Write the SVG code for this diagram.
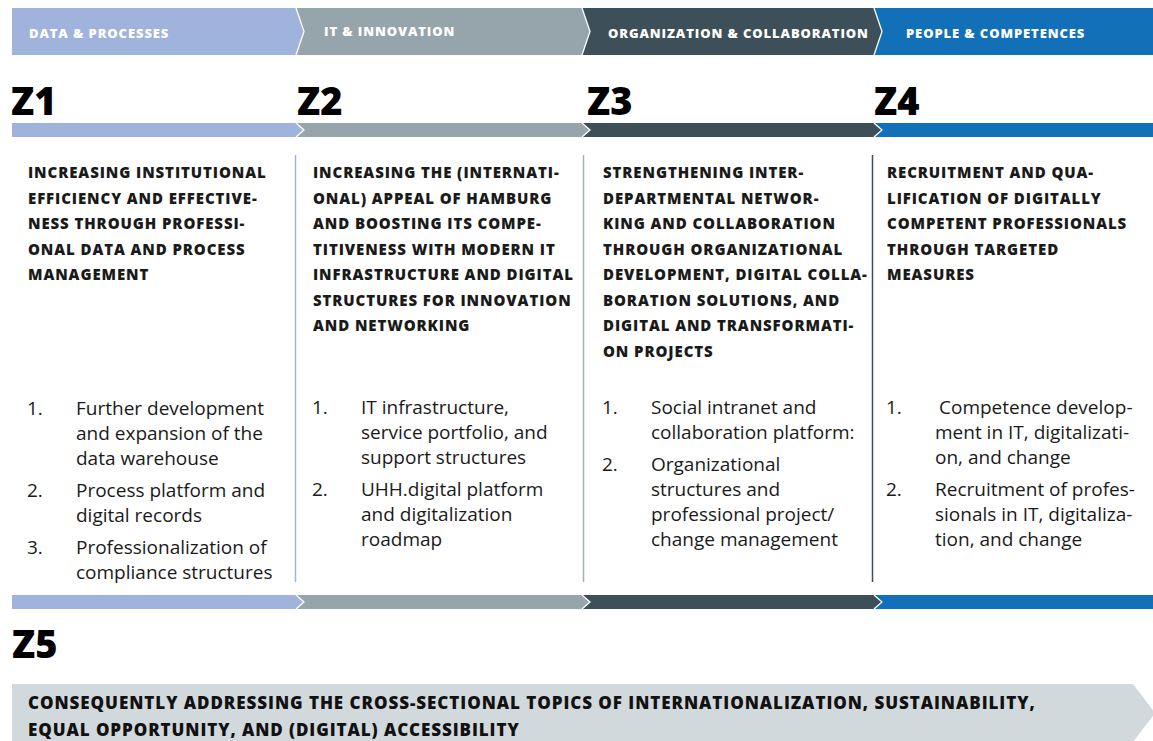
<svg xmlns="http://www.w3.org/2000/svg" width="1153" height="741" viewBox="0 0 1153 741">
<style>
.hdr{font-family:"Open Sans",sans-serif;font-weight:800;font-size:13px;letter-spacing:0.9px;fill:#fff}
.z{font-family:"Open Sans",sans-serif;font-weight:800;font-size:38px;fill:#000}
.h{font-family:"Open Sans",sans-serif;font-weight:800;font-size:15px;letter-spacing:0.9px;fill:#1a1a1a}
.li{font-family:"Open Sans",sans-serif;font-size:19px;fill:#1a1a1a}
.z5{font-family:"Open Sans",sans-serif;font-weight:800;font-size:17px;letter-spacing:0.3px;fill:#111}
.sep{fill:none;stroke:#fff;stroke-width:1.3}
.c1{fill:#9fb3dd}.c2{fill:#96a5ac}.c3{fill:#3d4f58}.c4{fill:#1170b8}
</style>
<rect width="1153" height="741" fill="#fff"/>

<g id="band-top">
<rect class="c4" x="874" y="8" width="279" height="47"/>
<polygon class="c3" points="582,8 874,8 882,31.5 874,55 582,55"/>
<polygon class="c2" points="296,8 582,8 590,31.5 582,55 296,55"/>
<polygon class="c1" points="12,8 296,8 304,31.5 296,55 12,55"/>
<polyline class="sep" points="296,8 304,31.5 296,55"/>
<polyline class="sep" points="582,8 590,31.5 582,55"/>
<polyline class="sep" points="874,8 882,31.5 874,55"/>
<text class="hdr" x="29" y="38">DATA &amp; PROCESSES</text>
<text class="hdr" x="324" y="36">IT &amp; INNOVATION</text>
<text class="hdr" x="608" y="38">ORGANIZATION &amp; COLLABORATION</text>
<text class="hdr" x="906" y="38">PEOPLE &amp; COMPETENCES</text>
</g>

<g id="band-mid">
<rect class="c4" x="874" y="123" width="279" height="14"/>
<polygon class="c3" points="582,123 874,123 882,130 874,137 582,137"/>
<polygon class="c2" points="296,123 582,123 590,130 582,137 296,137"/>
<polygon class="c1" points="12,123 296,123 304,130 296,137 12,137"/>
<polyline class="sep" points="296,123 304,130 296,137"/>
<polyline class="sep" points="582,123 590,130 582,137"/>
<polyline class="sep" points="874,123 882,130 874,137"/>
</g>

<g id="band-bottom">
<rect class="c4" x="874" y="595" width="279" height="14"/>
<polygon class="c3" points="582,595 874,595 882,602 874,609 582,609"/>
<polygon class="c2" points="296,595 582,595 590,602 582,609 296,609"/>
<polygon class="c1" points="12,595 296,595 304,602 296,609 12,609"/>
<polyline class="sep" points="296,595 304,602 296,609"/>
<polyline class="sep" points="582,595 590,602 582,609"/>
<polyline class="sep" points="874,595 882,602 874,609"/>
</g>

<g id="dividers">
<line x1="295.5" y1="155" x2="295.5" y2="582" stroke="#9fb3dd" stroke-width="1.5"/>
<line x1="583.5" y1="155" x2="583.5" y2="582" stroke="#a6b1b7" stroke-width="1.5"/>
<line x1="872.5" y1="155" x2="872.5" y2="582" stroke="#3d4f58" stroke-width="1.5"/>
</g>

<g id="z1">
<text class="z" x="11" y="115">Z1</text>
<text class="h"><tspan x="28" y="178">INCREASING INSTITUTIONAL</tspan><tspan x="28" y="203.5">EFFICIENCY AND EFFECTIVE-</tspan><tspan x="28" y="229">NESS THROUGH PROFESSI-</tspan><tspan x="28" y="254.5">ONAL DATA AND PROCESS</tspan><tspan x="28" y="280">MANAGEMENT</tspan></text>
<text class="li"><tspan x="27" y="415">1.</tspan><tspan x="76" y="415">Further development</tspan><tspan x="76" y="440">and expansion of the</tspan><tspan x="76" y="465">data warehouse</tspan><tspan x="27" y="497">2.</tspan><tspan x="76" y="497">Process platform and</tspan><tspan x="76" y="522">digital records</tspan><tspan x="27" y="554">3.</tspan><tspan x="76" y="554">Professionalization of</tspan><tspan x="76" y="579">compliance structures</tspan></text>
</g>

<g id="z2">
<text class="z" x="297" y="115">Z2</text>
<text class="h"><tspan x="313" y="178">INCREASING THE (INTERNATI-</tspan><tspan x="313" y="203.5">ONAL) APPEAL OF HAMBURG</tspan><tspan x="313" y="229">AND BOOSTING ITS COMPE-</tspan><tspan x="313" y="254.5">TITIVENESS WITH MODERN IT</tspan><tspan x="313" y="280">INFRASTRUCTURE AND DIGITAL</tspan><tspan x="313" y="305.5">STRUCTURES FOR INNOVATION</tspan><tspan x="313" y="331">AND NETWORKING</tspan></text>
<text class="li"><tspan x="312" y="414">1.</tspan><tspan x="361" y="414">IT infrastructure,</tspan><tspan x="361" y="439">service portfolio, and</tspan><tspan x="361" y="464">support structures</tspan><tspan x="312" y="496">2.</tspan><tspan x="361" y="496">UHH.digital platform</tspan><tspan x="361" y="521">and digitalization</tspan><tspan x="361" y="546">roadmap</tspan></text>
</g>

<g id="z3">
<text class="z" x="587" y="115">Z3</text>
<text class="h"><tspan x="603" y="178">STRENGTHENING INTER-</tspan><tspan x="603" y="203.5">DEPARTMENTAL NETWOR-</tspan><tspan x="603" y="229">KING AND COLLABORATION</tspan><tspan x="603" y="254.5">THROUGH ORGANIZATIONAL</tspan><tspan x="603" y="280">DEVELOPMENT, DIGITAL COLLA-</tspan><tspan x="603" y="305.5">BORATION SOLUTIONS, AND</tspan><tspan x="603" y="331">DIGITAL AND TRANSFORMATI-</tspan><tspan x="603" y="356.5">ON PROJECTS</tspan></text>
<text class="li"><tspan x="602" y="414">1.</tspan><tspan x="651" y="414">Social intranet and</tspan><tspan x="651" y="439">collaboration platform:</tspan><tspan x="602" y="471">2.</tspan><tspan x="651" y="471">Organizational</tspan><tspan x="651" y="496">structures and</tspan><tspan x="651" y="521">professional project/</tspan><tspan x="651" y="546">change management</tspan></text>
</g>

<g id="z4">
<text class="z" x="874" y="115">Z4</text>
<text class="h"><tspan x="887" y="178">RECRUITMENT AND QUA-</tspan><tspan x="887" y="203.5">LIFICATION OF DIGITALLY</tspan><tspan x="887" y="229">COMPETENT PROFESSIONALS</tspan><tspan x="887" y="254.5">THROUGH TARGETED</tspan><tspan x="887" y="280">MEASURES</tspan></text>
<text class="li"><tspan x="886" y="414">1.</tspan><tspan x="939" y="414">Competence develop-</tspan><tspan x="935" y="439">ment in IT, digitalizati-</tspan><tspan x="935" y="464">on, and change</tspan><tspan x="886" y="496">2.</tspan><tspan x="935" y="496">Recruitment of profes-</tspan><tspan x="935" y="521">sionals in IT, digitaliza-</tspan><tspan x="935" y="546">tion, and change</tspan></text>
</g>

<g id="z5">
<text class="z" x="12" y="658">Z5</text>
<polygon fill="#d2d9dd" points="12,684 1133,684 1155,713 1133,742 12,742"/>
<text class="z5" x="28" y="709" textLength="1007" lengthAdjust="spacing">CONSEQUENTLY ADDRESSING THE CROSS-SECTIONAL TOPICS OF INTERNATIONALIZATION, SUSTAINABILITY,</text>
<text class="z5" x="28" y="736" textLength="491" lengthAdjust="spacing">EQUAL OPPORTUNITY, AND (DIGITAL) ACCESSIBILITY</text>
</g>
</svg>
